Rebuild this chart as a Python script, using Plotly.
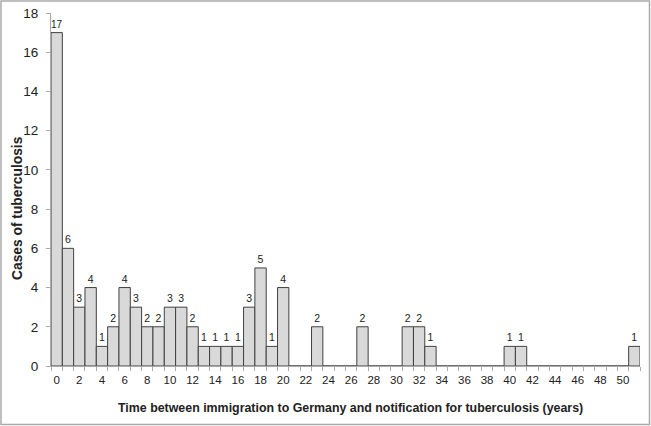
import plotly.graph_objects as go

years = list(range(52))
cases = [17, 6, 3, 4, 1, 2, 4, 3, 2, 2, 3, 3, 2, 1, 1, 1, 1, 3, 5, 1, 4,
         0, 0, 2, 0, 0, 0, 2, 0, 0, 0, 2, 2, 1, 0, 0, 0, 0, 0, 0, 1, 1,
         0, 0, 0, 0, 0, 0, 0, 0, 0, 1]
tick_years = list(range(0, 52, 2))
bar_labels = [str(c) if c > 0 else "" for c in cases]

W, H = 651, 426
ml, mr, mt, mb = 51, 11, 13, 60
pw, ph = W - ml - mr, H - mt - mb

fig = go.Figure()
fig.add_trace(go.Bar(
    x=years, y=cases, width=1,
    text=bar_labels, textposition="outside", cliponaxis=False,
    textfont=dict(size=10.5, color="#222222"),
    marker=dict(color="#d9d9d9", line=dict(color="#404040", width=1)),
))

fig.update_layout(
    width=W, height=H,
    margin=dict(l=ml, r=mr, t=mt, b=mb, autoexpand=False),
    plot_bgcolor="white", paper_bgcolor="white",
    showlegend=False,
    font=dict(family="Liberation Sans, Arial, sans-serif", color="#222222"),
    xaxis=dict(
        range=[-0.5, 51.5], tickvals=tick_years, ticktext=[str(t) for t in tick_years],
        ticks="", tickfont=dict(size=11.5), automargin=False, ticklabelstandoff=3,
        showline=True, linecolor="#aaaaaa", linewidth=1, showgrid=False, zeroline=False,
        minor=dict(ticks="outside", tick0=-0.5, dtick=1, ticklen=4, tickcolor="#aaaaaa", showgrid=False),
    ),
    yaxis=dict(
        range=[0, 18], dtick=2, ticks="outside", ticklen=4, tickcolor="#aaaaaa",
        tickfont=dict(size=13.5), showline=True, linecolor="#aaaaaa", linewidth=1,
        showgrid=False, zeroline=False, automargin=False, ticklabelstandoff=5,
    ),
    annotations=[
        dict(
            text="<b>Time between immigration to Germany and notification for tuberculosis (years)</b>",
            xref="paper", yref="paper", x=(350 - ml) / pw, y=-(408 - mt - ph) / ph,
            xanchor="center", yanchor="middle", showarrow=False, font=dict(size=12.4),
        ),
        dict(
            text="<b>Cases of tuberculosis</b>", textangle=-90,
            xref="paper", yref="paper", x=-(ml - 17) / pw, y=(mt + ph - 208) / ph,
            xanchor="center", yanchor="middle", showarrow=False, font=dict(size=13.8),
        ),
    ],
    shapes=[dict(
        type="rect", xref="paper", yref="paper",
        x0=-(ml - 1) / pw, x1=1 + (mr - 1.5) / pw, y0=-(mb - 1.5) / ph, y1=1 + (mt - 1) / ph,
        line=dict(color="#aaaaaa", width=1.5),
    )],
)

fig.write_html("out.html", config={"displayModeBar": False},
               post_script="document.body.style.margin='0';")
